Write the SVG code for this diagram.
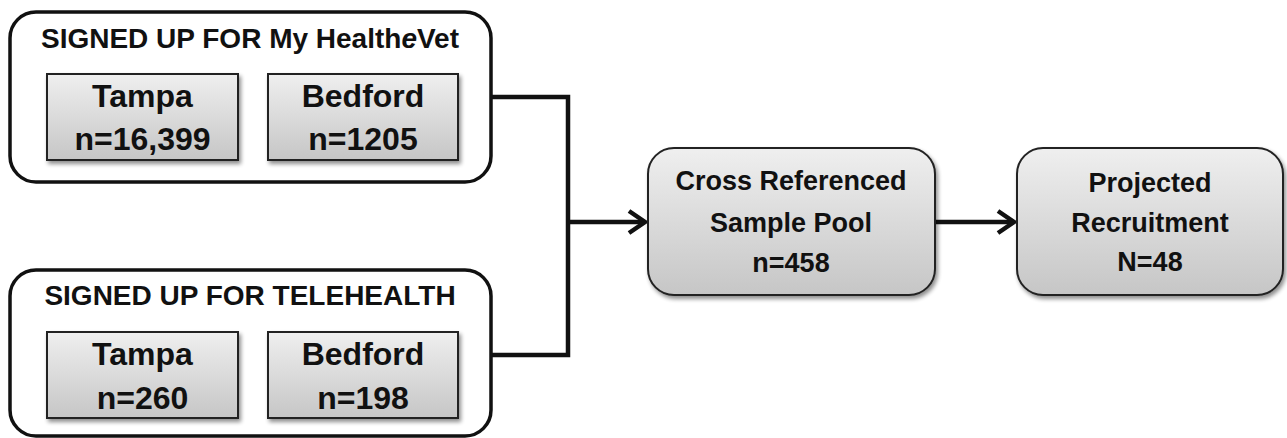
<svg xmlns="http://www.w3.org/2000/svg" width="1287" height="438" viewBox="0 0 1287 438">
<style>
text{font-family:"Liberation Sans",Arial,sans-serif;font-weight:bold;fill:#111;text-anchor:middle}
.group{fill:#fff;stroke:#111;stroke-width:3.5}
.site{fill:url(#g);stroke:#222;stroke-width:2;filter:url(#sh)}
.proc{fill:url(#g);stroke:#222;stroke-width:2;filter:url(#sh)}
.title{font-size:28px}
.big{font-size:32px}
.mid{font-size:27px}
.conn{fill:none;stroke:#111;stroke-width:4.5}
</style>
<defs>
<linearGradient id="g" x1="0" y1="0" x2="0" y2="1">
<stop offset="0" stop-color="#efefef"/>
<stop offset="1" stop-color="#c6c6c6"/>
</linearGradient>
<filter id="sh" x="-10%" y="-10%" width="125%" height="130%">
<feGaussianBlur in="SourceAlpha" stdDeviation="2"/>
<feOffset dx="2" dy="3" result="b"/>
<feComponentTransfer><feFuncA type="linear" slope="0.45"/></feComponentTransfer>
<feMerge><feMergeNode/><feMergeNode in="SourceGraphic"/></feMerge>
</filter>
<marker id="arr" markerWidth="22" markerHeight="26" refX="18" refY="13" orient="auto" markerUnits="userSpaceOnUse">
<path d="M2,2 L18,13 L2,24" fill="none" stroke="#111" stroke-width="4.5"/>
</marker>
</defs>
<g id="connectors">
<path class="conn" d="M491,97 H568 V355 H491"/>
<path class="conn" d="M568,222 H645" marker-end="url(#arr)"/>
<path class="conn" d="M935,222 H1014" marker-end="url(#arr)"/>
</g>
<g id="myhealthevet">
<rect class="group" x="10" y="12" width="481" height="170" rx="26"/>
<text class="title" x="250" y="48">SIGNED UP FOR My Health<tspan font-style="italic">e</tspan>Vet</text>
</g>
<g id="mhv-tampa">
<rect class="site" x="47" y="74" width="191" height="86"/>
<text class="big" x="142.5" y="107">Tampa</text>
<text class="big" x="142.5" y="150">n=16,399</text>
</g>
<g id="mhv-bedford">
<rect class="site" x="268" y="74" width="190" height="86"/>
<text class="big" x="363" y="107">Bedford</text>
<text class="big" x="363" y="150">n=1205</text>
</g>
<g id="telehealth">
<rect class="group" x="10" y="270" width="481" height="166" rx="26"/>
<text class="title" x="250" y="305">SIGNED UP FOR TELEHEALTH</text>
</g>
<g id="th-tampa">
<rect class="site" x="47" y="332" width="191" height="86"/>
<text class="big" x="142.5" y="365">Tampa</text>
<text class="big" x="142.5" y="409">n=260</text>
</g>
<g id="th-bedford">
<rect class="site" x="268" y="332" width="190" height="86"/>
<text class="big" x="363" y="365">Bedford</text>
<text class="big" x="363" y="409">n=198</text>
</g>
<g id="pool">
<rect class="proc" x="648" y="148" width="287" height="147" rx="26"/>
<text class="mid" x="791" y="190">Cross Referenced</text>
<text class="mid" x="791" y="232">Sample Pool</text>
<text class="mid" x="791" y="272">n=458</text>
</g>
<g id="recruitment">
<rect class="proc" x="1017" y="148" width="266" height="147" rx="26"/>
<text class="mid" x="1150" y="192">Projected</text>
<text class="mid" x="1150" y="232">Recruitment</text>
<text class="mid" x="1150" y="271">N=48</text>
</g>
</svg>
